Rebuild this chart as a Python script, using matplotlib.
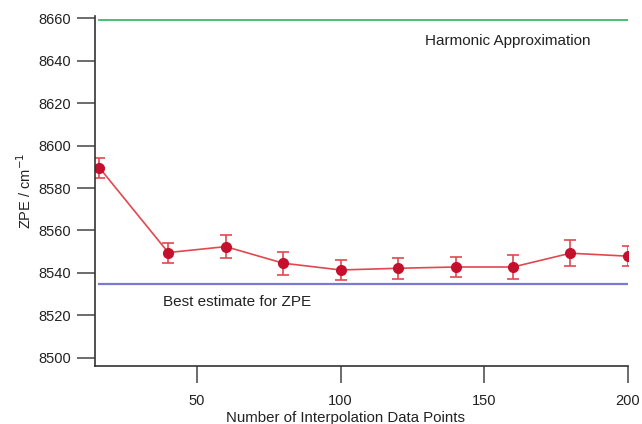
import matplotlib.pyplot as plt
import numpy as np

plt.rcParams['font.family'] = ['Liberation Sans', 'DejaVu Sans']

# data
n_points = [16, 40, 60, 80, 100, 120, 140, 160, 180, 200]
zpe = [8589.6, 8549.6, 8552.4, 8544.6, 8541.4, 8542.2, 8542.8, 8542.8, 8549.3, 8547.9]
zpe_err = [4.7, 4.7, 5.3, 5.4, 4.7, 4.9, 4.9, 5.5, 6.2, 4.7]
harmonic = 8659
best = 8535

fig = plt.figure(figsize=(6.42, 4.24), dpi=100)
ax = fig.add_axes([0.148, 0.137, 0.83, 0.825])

ax.plot([n_points[0], n_points[-1]], [harmonic, harmonic], color='#3cb86a', linewidth=1.3)
ax.plot([n_points[0], n_points[-1]], [best, best], color='#7a7ad0', linewidth=1.6)

ax.errorbar(n_points, zpe, yerr=zpe_err, color='#e0484f', linewidth=1.2,
            marker='o', markersize=7, markerfacecolor='#c4102c', markeredgecolor='#c4102c',
            ecolor='#e0484f', elinewidth=1.2, capsize=4, capthick=1.2)

ax.text(129.3, 8649.5, 'Harmonic Approximation', fontsize=11, color='#222222', va='center')
ax.text(38.2, 8526.4, 'Best estimate for ZPE', fontsize=11, color='#222222', va='center')

ax.set_xlim(14.5, 200)
ax.set_ylim(8496.2, 8661)
ax.set_xticks([50, 100, 150, 200])
ax.set_yticks(np.arange(8500, 8661, 20))

ax.spines['top'].set_visible(False)
ax.spines['right'].set_visible(False)
for s in ['left', 'bottom']:
    ax.spines[s].set_color('#333333')
    ax.spines[s].set_linewidth(1.2)
ax.tick_params(axis='both', direction='out', length=13, width=1.1, color='#444444',
               labelsize=10.5, labelcolor='#222222', pad=4)
ax.tick_params(axis='x', length=12, pad=8)

ax.set_xlabel('Number of Interpolation Data Points', fontsize=10.8, color='#222222')
ax.xaxis.set_label_coords(0.471, -0.128)
ax.set_ylabel('ZPE / cm$^{-1}$', fontsize=10.5, color='#222222', labelpad=3)

fig.savefig('out.png', dpi=100)
